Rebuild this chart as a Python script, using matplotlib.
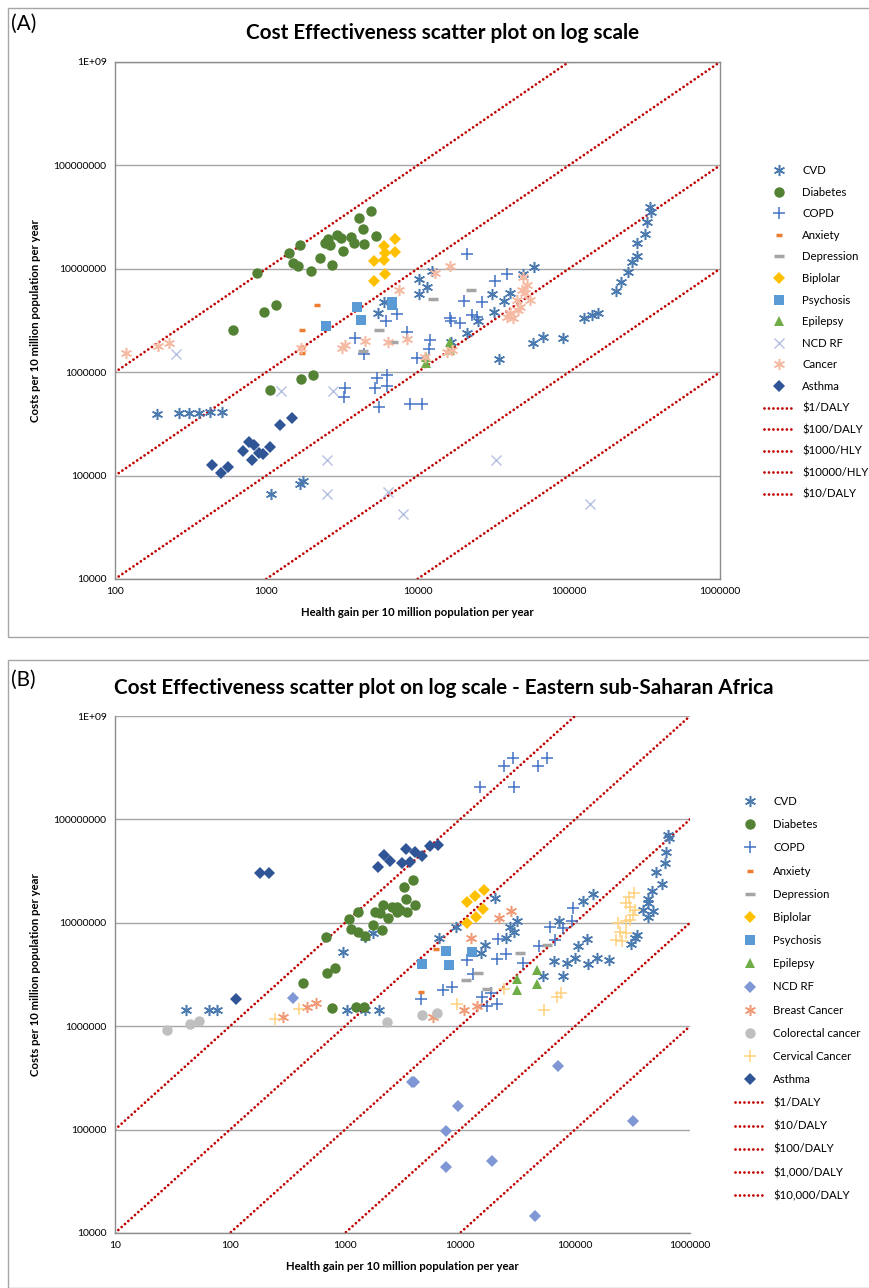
import numpy as np
import matplotlib
matplotlib.use("Agg")
import matplotlib.pyplot as plt
from matplotlib.lines import Line2D
from matplotlib.patches import Rectangle

plt.rcParams['font.family'] = ['Lato', 'DejaVu Sans']

# ---------------- axis ticks ----------------
y_ticks = [1e4, 1e5, 1e6, 1e7, 1e8, 1e9]
y_tick_labels = ["10000", "100000", "1000000", "10000000", "100000000", "1E+09"]
a_x_ticks = [100, 1000, 10000, 100000, 1000000]
a_x_tick_labels = ["100", "1000", "10000", "100000", "1000000"]
b_x_ticks = [10, 100, 1000, 10000, 100000, 1000000]
b_x_tick_labels = ["10", "100", "1000", "10000", "100000", "1000000"]

# ---------------- panel A data ----------------
a_cvd_x = [190, 265, 308, 359, 424, 510, 1075, 1670, 1750, 6010, 5480,
           344000, 350000, 329000, 319000, 282000, 282000, 262000, 246000, 222000, 205000,
           58900, 12500, 10200, 11600, 10200, 49900, 40900, 31100, 37300, 32100,
           126000, 143000, 156000, 58100, 67600, 91600, 34600, 21200, 25100, 16600]
a_cvd_y = [3.94e5, 4.03e5, 4.03e5, 4.03e5, 4.12e5, 4.12e5, 6.64e4, 8.3e4, 8.88e4, 4.78e6, 3.74e6,
           3.96e7, 3.54e7, 2.84e7, 2.17e7, 1.77e7, 1.33e7, 1.16e7, 9.3e6, 7.45e6, 6.1e6,
           1.04e7, 9.5e6, 7.96e6, 6.66e6, 5.7e6, 8.9e6, 5.83e6, 5.7e6, 4.89e6, 3.82e6,
           3.34e6, 3.57e6, 3.74e6, 1.91e6, 2.19e6, 2.14e6, 1.34e6, 2.39e6, 3.13e6, 1.96e6]

a_diab_x = [4930, 4120, 4390, 5300, 2920, 3130, 3650, 2550, 2440, 2640, 3820, 4430, 1670, 1410,
            3210, 2250, 1500, 1630, 2730, 1980, 873, 1155, 966, 603, 1060, 1706, 2026]
a_diab_y = [3.65e7, 3.10e7, 2.43e7, 2.06e7, 2.12e7, 2.0e7, 2.03e7, 1.94e7, 1.78e7, 1.69e7, 1.78e7,
            1.75e7, 1.69e7, 1.43e7, 1.49e7, 1.28e7, 1.14e7, 1.06e7, 1.10e7, 9.47e6, 9.04e6, 4.5e6,
            3.82e6, 2.54e6, 6.73e5, 8.53e5, 9.4e5]

a_copd_x = [7310, 6200, 8530, 3860, 4430, 9930, 5400, 6280, 6280, 5240, 3320, 3270, 5560, 8910,
            10700, 12100, 11900, 16600, 19100, 20300, 26700, 22900, 21200, 39100, 32500, 16400, 24700]
a_copd_y = [3.66e6, 3.13e6, 2.45e6, 2.14e6, 1.5e6, 1.37e6, 8.8e5, 9.4e5, 7.36e5, 7.03e5, 7.03e5,
            5.75e5, 4.6e5, 4.92e5, 4.92e5, 2.05e6, 1.68e6, 3.13e6, 2.99e6, 4.89e6, 4.78e6, 3.57e6,
            1.39e7, 8.9e6, 7.62e6, 3.34e6, 3.42e6]

a_anx_x = [2160, 1720, 1720, 1720]
a_anx_y = [4.5e6, 2.56e6, 1.75e6, 1.54e6]

a_dep_x = [22600, 12700, 5530, 4390, 6850]
a_dep_y = [6.2e6, 5.1e6, 2.56e6, 1.6e6, 1.97e6]

a_bip_x = [7130, 6000, 6120, 7130, 6000, 5130, 6100, 5130]
a_bip_y = [1.93e7, 1.66e7, 1.41e7, 1.44e7, 1.21e7, 1.18e7, 9.0e6, 7.67e6]

a_psy_x = [3980, 6770, 6770, 4250, 2490]
a_psy_y = [4.27e6, 4.78e6, 4.5e6, 3.2e6, 2.82e6]

a_epi_x = [11400, 11400, 16400, 16400]
a_epi_y = [1.4e6, 1.23e6, 1.96e6, 1.64e6]

a_ncd_x = [253, 1260, 2750, 2530, 2530, 6360, 8050, 32900, 137700]
a_ncd_y = [1.49e6, 6.53e5, 6.53e5, 1.41e5, 6.64e4, 6.93e4, 4.26e4, 1.41e5, 5.31e4]

a_can_x = [119, 191, 228, 1710, 3320, 3190, 4500, 6410, 8490, 7510, 16400, 13100,
           49900, 48900, 51400, 45300, 47700, 40900, 43000, 38900, 15600, 16800, 11200,
           53000, 55500, 46100]
a_can_y = [1.55e6, 1.8e6, 1.93e6, 1.7e6, 1.83e6, 1.73e6, 1.99e6, 1.95e6, 2.08e6, 6.24e6, 1.07e7, 9.04e6,
           8.4e6, 6.24e6, 5.8e6, 4.99e6, 4.3e6, 3.7e6, 3.32e6, 3.44e6, 1.58e6, 1.64e6, 1.41e6,
           6.97e6, 4.99e6, 4.0e6]

a_ast_x = [1470, 1240, 1065, 769, 834, 705, 896, 955, 800, 440, 561, 502]
a_ast_y = [3.58e5, 3.06e5, 1.89e5, 2.1e5, 1.99e5, 1.74e5, 1.66e5, 1.61e5, 1.42e5, 1.26e5, 1.20e5, 1.06e5]

a_line_labels = ["\\$1/DALY", "\\$100/DALY", "\\$1000/HLY", "\\$10000/HLY", "\\$10/DALY"]
a_line_ratio = [10000, 1000, 100, 10, 1]

# ---------------- panel B data ----------------
b_cvd_x = [966, 1760, 1490, 41.4, 65.3, 77.6, 1047, 1490, 1990,
           647000, 661000, 618000, 606000, 504000, 568000, 465000, 429000, 434000, 393000, 473000,
           434000, 348000, 307000, 332000, 143000, 117000, 73000, 126000, 107000, 198000, 155000,
           129000, 100000, 84700, 66100, 78200, 52400, 20100, 27200, 29700, 31100, 25100, 16500,
           15200, 9230, 6610]
b_cvd_y = [5.19e6, 8.0e6, 7.35e6, 1.44e6, 1.45e6, 1.45e6, 1.42e6, 1.42e6, 1.42e6,
           7.06e7, 6.57e7, 4.87e7, 3.76e7, 3.08e7, 2.37e7, 2.03e7, 1.71e7, 1.55e7, 1.33e7, 1.3e7,
           1.15e7, 7.57e6, 6.24e6, 7.08e6, 1.89e7, 1.64e7, 1.05e7, 6.92e6, 5.97e6, 4.37e6, 4.54e6,
           4.0e6, 4.59e6, 4.06e6, 4.27e6, 3.08e6, 3.08e6, 1.73e7, 9.04e6, 8.2e6, 1.05e7, 7.18e6, 6.1e6,
           5.07e6, 9.17e6, 7.08e6]

b_diab_x = [3280, 3390, 3440, 1820, 2150, 2550, 2820, 2820, 2380, 2010, 1306, 1090, 1760, 2110,
            1130, 1306, 1490, 684, 824, 702, 3930, 4060, 3010, 434, 777, 1240, 1470]
b_diab_y = [2.2e7, 1.69e7, 1.28e7, 1.28e7, 1.49e7, 1.43e7, 1.43e7, 1.28e7, 1.11e7, 1.24e7, 1.27e7,
            1.08e7, 9.5e6, 8.5e6, 8.7e6, 8.2e6, 7.5e6, 7.24e6, 3.63e6, 3.25e6, 2.6e7, 1.49e7, 1.33e7,
            2.6e6, 1.49e6, 1.54e6, 1.54e6]

b_copd_x = [28700, 24100, 56800, 47400, 29500, 14900, 96500, 93500, 60600, 79000, 67000, 48900,
            21500, 25100, 21100, 11400, 35500, 13100, 7160, 8470, 4550, 15500, 18500, 17300, 20800]
b_copd_y = [3.95e8, 3.3e8, 3.95e8, 3.28e8, 2.07e8, 2.07e8, 1.38e7, 1.05e7, 9.2e6, 8.85e6, 6.8e6, 6.0e6,
            6.97e6, 4.95e6, 4.43e6, 4.32e6, 4.1e6, 3.18e6, 2.24e6, 2.41e6, 1.83e6, 1.93e6, 2.08e6,
            1.57e6, 1.64e6]

b_anx_x = [6180, 4580]
b_anx_y = [5.58e6, 2.16e6]

b_dep_x = [33300, 56700, 14400, 11300, 17300]
b_dep_y = [5.14e6, 6.1e6, 3.29e6, 2.8e6, 2.28e6]

b_bip_x = [11400, 13500, 16200, 16000, 13800, 11400]
b_bip_y = [1.58e7, 1.83e7, 2.07e7, 1.35e7, 1.15e7, 9.9e6]

b_psy_x = [4650, 7510, 8020, 12800]
b_psy_y = [3.97e6, 5.37e6, 3.91e6, 5.26e6]

b_epi_x = [31100, 31100, 47000, 47000]
b_epi_y = [2.86e6, 2.24e6, 3.5e6, 2.56e6]

b_ncd_x = [351, 3800, 3980, 9660, 7510, 7510, 19000, 71100, 321000, 44900]
b_ncd_y = [1.86e6, 2.9e5, 2.9e5, 1.70e5, 9.7e4, 4.32e4, 4.97e4, 4.15e5, 1.21e5, 1.46e4]

b_brc_x = [290, 470, 560, 5860, 10900, 14100, 22000, 27800, 12500]
b_brc_y = [1.24e6, 1.55e6, 1.69e6, 1.22e6, 1.44e6, 1.57e6, 1.11e7, 1.3e7, 7.08e6]

b_col_x = [28.2, 44.9, 53.7, 2320, 4650, 6270]
b_col_y = [9.18e5, 1.05e6, 1.12e6, 1.1e6, 1.27e6, 1.35e6]

b_cer_x = [246, 401, 9350, 24200, 69300, 75500, 53700, 328000, 297000, 278000, 301000, 332000,
           321000, 301000, 276000, 238000, 246000, 278000, 228000, 255000]
b_cer_y = [1.17e6, 1.46e6, 1.64e6, 2.29e6, 1.9e6, 2.08e6, 1.44e6, 1.93e7, 1.79e7, 1.55e7, 1.43e7,
           1.33e7, 1.19e7, 1.06e7, 1.03e7, 9.9e6, 8.2e6, 7.9e6, 6.8e6, 6.6e6]

b_ast_x = [182, 217, 2180, 2460, 1920, 3390, 4060, 4650, 3110, 3670, 5480, 6470, 113]
b_ast_y = [3.06e7, 3.06e7, 4.53e7, 3.99e7, 3.49e7, 5.14e7, 4.87e7, 4.46e7, 3.81e7, 3.9e7, 5.53e7,
           5.66e7, 1.83e6]

b_line_labels = ["\\$1/DALY", "\\$10/DALY", "\\$100/DALY", "\\$1,000/DALY", "\\$10,000/DALY"]
b_line_ratio = [10000, 1000, 100, 10, 1]

# ---------------- marker styles ----------------
asterisk = (6, 2, 0)
styles = {
    "CVD": dict(marker=asterisk, ms=8, mfc="none", mec="#4a7ab0", mew=1.1),
    "Diabetes": dict(marker="o", ms=7.5, mfc="#548235", mec="#548235", mew=0),
    "COPD": dict(marker="+", ms=8, mfc="none", mec="#4472c4", mew=1.1),
    "Anxiety": dict(marker="_", ms=4, mfc="none", mec="#ed7d31", mew=2.5),
    "Depression": dict(marker="_", ms=7, mfc="none", mec="#a5a5a5", mew=2.5),
    "Biplolar": dict(marker="D", ms=6, mfc="#ffc000", mec="#ffc000", mew=0),
    "Psychosis": dict(marker="s", ms=7.5, mfc="#5b9bd5", mec="#5b9bd5", mew=0),
    "Epilepsy": dict(marker="^", ms=7.5, mfc="#70ad47", mec="#70ad47", mew=0),
    "NCD RF A": dict(marker="x", ms=6.5, mfc="none", mec="#b4c0e4", mew=1.0),
    "Cancer": dict(marker=asterisk, ms=8, mfc="none", mec="#f6b9a2", mew=1.1),
    "Asthma": dict(marker="D", ms=6, mfc="#2f5597", mec="#2f5597", mew=0),
    "NCD RF B": dict(marker="D", ms=6, mfc="#7f97d4", mec="#7f97d4", mew=0),
    "Breast Cancer": dict(marker=asterisk, ms=8, mfc="none", mec="#f09a78", mew=1.1),
    "Colorectal cancer": dict(marker="o", ms=7.5, mfc="#bfbfbf", mec="#bfbfbf", mew=0),
    "Cervical Cancer": dict(marker="+", ms=8, mfc="none", mec="#ffd27f", mew=1.1),
}
line_style = dict(color="#c00000", lw=2.0, ls=(0, (0.01, 1.6)), dash_capstyle="round")

panel_a = [("CVD", "CVD", a_cvd_x, a_cvd_y), ("Diabetes", "Diabetes", a_diab_x, a_diab_y),
           ("COPD", "COPD", a_copd_x, a_copd_y), ("Anxiety", "Anxiety", a_anx_x, a_anx_y),
           ("Depression", "Depression", a_dep_x, a_dep_y), ("Biplolar", "Biplolar", a_bip_x, a_bip_y),
           ("Psychosis", "Psychosis", a_psy_x, a_psy_y), ("Epilepsy", "Epilepsy", a_epi_x, a_epi_y),
           ("NCD RF", "NCD RF A", a_ncd_x, a_ncd_y), ("Cancer", "Cancer", a_can_x, a_can_y),
           ("Asthma", "Asthma", a_ast_x, a_ast_y)]
panel_b = [("CVD", "CVD", b_cvd_x, b_cvd_y), ("Diabetes", "Diabetes", b_diab_x, b_diab_y),
           ("COPD", "COPD", b_copd_x, b_copd_y), ("Anxiety", "Anxiety", b_anx_x, b_anx_y),
           ("Depression", "Depression", b_dep_x, b_dep_y), ("Biplolar", "Biplolar", b_bip_x, b_bip_y),
           ("Psychosis", "Psychosis", b_psy_x, b_psy_y), ("Epilepsy", "Epilepsy", b_epi_x, b_epi_y),
           ("NCD RF", "NCD RF B", b_ncd_x, b_ncd_y), ("Breast Cancer", "Breast Cancer", b_brc_x, b_brc_y),
           ("Colorectal cancer", "Colorectal cancer", b_col_x, b_col_y),
           ("Cervical Cancer", "Cervical Cancer", b_cer_x, b_cer_y), ("Asthma", "Asthma", b_ast_x, b_ast_y)]


def draw_panel(ax, series, ratios, line_labels, xticks, xlabels, boxed):
    xmin, xmax = xticks[0], xticks[-1]
    ax.set_xscale("log")
    ax.set_yscale("log")
    ax.set_xlim(xmin, xmax)
    ax.set_ylim(1e4, 1e9)
    ax.set_yticks(y_ticks)
    ax.set_yticklabels(y_tick_labels)
    ax.set_xticks(xticks)
    ax.set_xticklabels(xlabels)
    ax.minorticks_off()
    ax.tick_params(labelsize=7.5, length=0, pad=6)
    ax.grid(axis="y", color="#a6a6a6", lw=1.0)
    ax.set_axisbelow(True)
    for side in ["left", "bottom", "top", "right"]:
        ax.spines[side].set_color("#8c8c8c")
        ax.spines[side].set_linewidth(1.0)
    if not boxed:
        ax.spines["top"].set_visible(False)
        ax.spines["right"].set_visible(False)

    handles = []
    for label, key, x, y in series:
        h, = ax.plot(x, y, ls="none", label=label, zorder=3, **styles[key])
        handles.append(h)

    xs = np.logspace(np.log10(xmin), np.log10(xmax), 400)
    for r in ratios:
        ax.plot(xs, xs * r, zorder=2, **line_style)
    handles += [Line2D([], [], **line_style) for _ in line_labels]
    labels = [s[0] for s in series] + line_labels

    ax.set_xlabel("Health gain per 10 million population per year", fontsize=8.2,
                  fontweight="bold", labelpad=8)
    ax.set_ylabel("Costs per 10 million population per year", fontsize=8.2,
                  fontweight="bold", labelpad=9)
    return handles, labels


fig = plt.figure(figsize=(8.7, 12.88), dpi=100)
W, H = 870.0, 1288.0

# panel frames
fig.patches.append(Rectangle((8 / W, 1 - 637 / H), 870 / W, 629 / H, transform=fig.transFigure,
                             fill=False, ec="#a6a6a6", lw=1.0))
fig.patches.append(Rectangle((8 / W, 0), 870 / W, 628 / H, transform=fig.transFigure,
                             fill=False, ec="#a6a6a6", lw=1.0))

ax_a = fig.add_axes([115 / W, 1 - 579 / H, 605 / W, 517 / H])
h_a, l_a = draw_panel(ax_a, panel_a, a_line_ratio, a_line_labels, a_x_ticks, a_x_tick_labels, True)
ax_b = fig.add_axes([115 / W, 1 - 1233 / H, 575 / W, 517 / H])
h_b, l_b = draw_panel(ax_b, panel_b, b_line_ratio, b_line_labels, b_x_ticks, b_x_tick_labels, False)

leg_kw = dict(loc="upper left", frameon=False, fontsize=8.2, handlelength=2.6, handletextpad=0.75,
              borderpad=0, borderaxespad=0, numpoints=1)
fig.legend(h_a, l_a, bbox_to_anchor=(764 / W, 1 - 165 / H), labelspacing=0.93, **leg_kw)
fig.legend(h_b, l_b, bbox_to_anchor=(735 / W, 1 - 796 / H), labelspacing=1.07, **leg_kw)

fig.text(443 / W, 1 - 33 / H, "Cost Effectiveness scatter plot on log scale", ha="center",
         va="center", fontsize=14.9, fontweight="bold")
fig.text(444 / W, 1 - 688 / H, "Cost Effectiveness scatter plot on log scale - Eastern sub-Saharan Africa",
         ha="center", va="center", fontsize=14.9, fontweight="bold")
fig.text(11 / W, 1 - 24 / H, "(A)", ha="left", va="center", fontsize=15)
fig.text(11 / W, 1 - 680 / H, "(B)", ha="left", va="center", fontsize=15)

fig.savefig("out.png", dpi=100)
